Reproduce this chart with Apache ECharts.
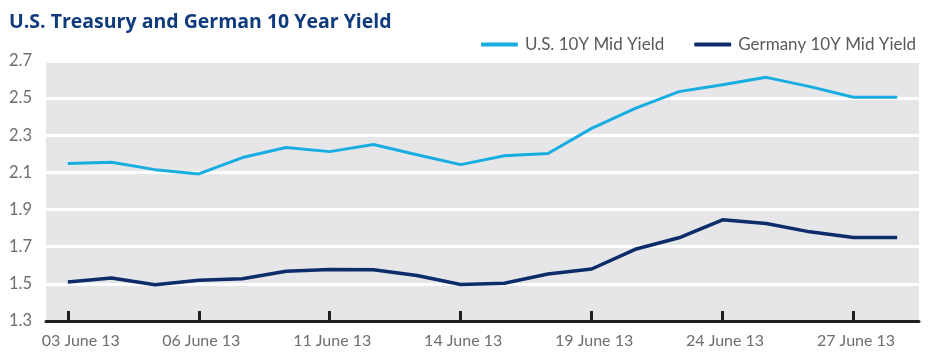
<!DOCTYPE html>
<html>
<head>
<meta charset="utf-8">
<script src="https://cdn.jsdelivr.net/npm/echarts@6/dist/echarts.min.js"></script>
<style>
html,body{margin:0;padding:0;background:#fff;}
#chart{width:934px;height:360px;}
</style>
</head>
<body>
<div id="chart"></div>
<script>
var titleText = 'U.S. Treasury and German 10 Year Yield';
var categories = ['03 June 13','04 June 13','05 June 13','06 June 13','07 June 13','10 June 13','11 June 13','12 June 13','13 June 13','14 June 13','17 June 13','18 June 13','19 June 13','20 June 13','21 June 13','24 June 13','25 June 13','26 June 13','27 June 13','28 June 13'];
var usName = 'U.S. 10Y Mid Yield';
var deName = 'Germany 10Y Mid Yield';
var usYield = [2.148, 2.155, 2.115, 2.092, 2.18, 2.234, 2.212, 2.25, 2.195, 2.142, 2.19, 2.202, 2.337, 2.445, 2.535, 2.572, 2.612, 2.562, 2.505, 2.505];
var deYield = [1.51, 1.532, 1.495, 1.52, 1.528, 1.568, 1.577, 1.576, 1.545, 1.497, 1.503, 1.553, 1.58, 1.686, 1.748, 1.845, 1.825, 1.78, 1.75, 1.75];
var yMin = 1.3, yMax = 2.7, yStep = 0.2;

var chart = echarts.init(document.getElementById('chart'));
var font = 'Lato, "Open Sans", "DejaVu Sans", sans-serif';
var titleFont = '"Open Sans", "DejaVu Sans", sans-serif';
chart.setOption({
  animation: false,
  textStyle: {fontFamily: font},
  title: {
    text: titleText, left: 4, top: 7,
    textStyle: {color: '#0f3b7d', fontSize: 19.5, fontWeight: 'bold', fontFamily: titleFont}
  },
  legend: {
    right: 13, top: 31, itemGap: 30, itemWidth: 37, itemHeight: 4, icon: 'roundRect',
    textStyle: {color: '#595959', fontSize: 17, fontFamily: font, padding: [0,0,0,2]},
    data: [usName, deName]
  },
  grid: {left: 46, right: 15, top: 61, bottom: 39, show: true, backgroundColor: '#e6e6e8', borderWidth: 0},
  xAxis: {
    type: 'category', data: categories, boundaryGap: true,
    axisLine: {lineStyle: {color: '#1f1f1f', width: 3}},
    axisTick: {show: true, inside: true, length: 10, alignWithLabel: true, interval: 2, lineStyle: {color: '#1f1f1f', width: 3}},
    axisLabel: {
      interval: 2, color: '#6d6e71', fontSize: 16, margin: 12, fontFamily: font,
      formatter: function(v, i){ return i === 0 ? '{first|' + v + '}' : '{n|' + v + '}'; },
      rich: {
        first: {color: '#6d6e71', fontSize: 16, fontFamily: font, padding: [0,0,0,26]},
        n: {color: '#6d6e71', fontSize: 16, fontFamily: font, padding: [0,0,0,5]}
      }
    },
    splitLine: {show: false}
  },
  yAxis: {
    type: 'value', min: yMin, max: yMax, interval: yStep,
    axisLine: {show: false}, axisTick: {show: false},
    axisLabel: {color: '#6d6e71', fontSize: 16.5, margin: 14, fontFamily: font, formatter: function(v){return v.toFixed(1);}},
    splitLine: {show: true, lineStyle: {color: '#ffffff', width: 3}}
  },
  series: [
    {name: usName, type: 'line', data: usYield, showSymbol: false, symbol: 'none', color: '#18ade0',
     lineStyle: {color: '#18ade0', width: 3}},
    {name: deName, type: 'line', data: deYield, showSymbol: false, symbol: 'none', color: '#0c2c6a',
     lineStyle: {color: '#0c2c6a', width: 3.5}}
  ]
});
</script>
</body>
</html>
